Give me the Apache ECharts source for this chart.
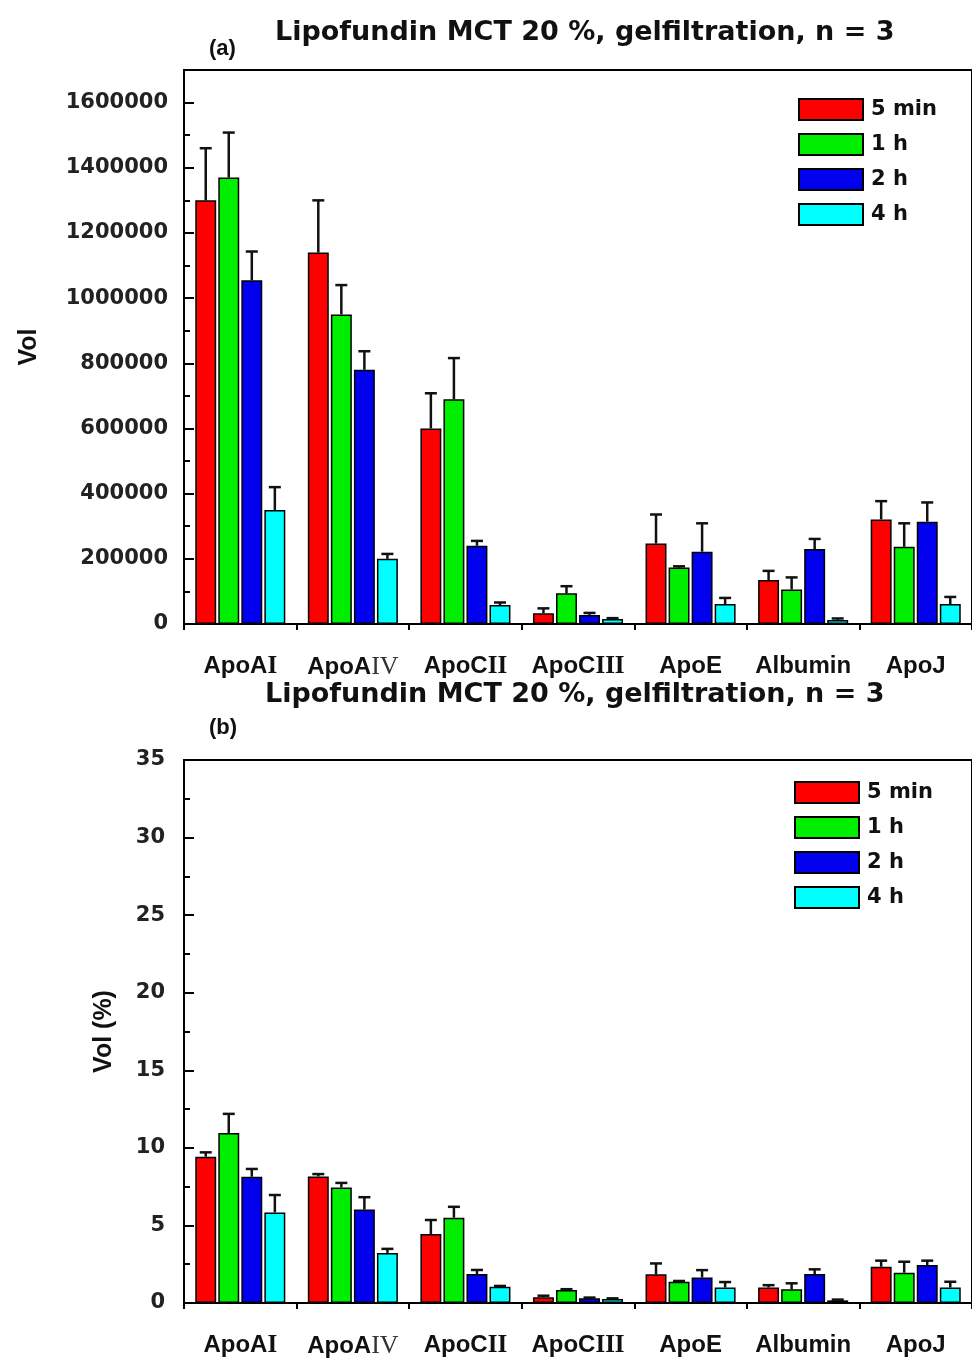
<!DOCTYPE html>
<html><head><meta charset="utf-8">
<script src="https://cdn.jsdelivr.net/npm/echarts@6/dist/echarts.min.js"></script>
<style>html,body{margin:0;padding:0;background:#fff}#c{width:972px;height:1360px}</style>
</head><body><div id="c"></div>
<script>
const categories = ['ApoAI','ApoAIV','ApoCII','ApoCIII','ApoE','Albumin','ApoJ'];
const seriesNames = ['5 min','1 h','2 h','4 h'];
const colors = ['#ff0000','#00ee00','#0000ee','#00ffff'];

// Panel (a): Vol
const volA_5min = [1300000, 1140000, 600000, 33000, 247000, 135000, 321000];
const volA_1h   = [1370000,  950000, 690000, 94000, 173000, 106000, 237000];
const volA_2h   = [1055000,  780000, 240000, 28000, 222000, 230000, 314000];
const volA_4h   = [ 350000,  200000,  58000, 15000,  61000,  12000,  61000];
const errA_5min = [160000, 160000, 108000, 15000, 89000, 28000, 56000];
const errA_1h   = [138000,  90000, 126000, 22000,  4000, 37000, 72000];
const errA_2h   = [ 88000,  57000,  15000,  6000, 87000, 31000, 59000];
const errA_4h   = [ 70000,  15000,   8000,  3000, 19000,  5000, 22000];

// Panel (b): Vol (%)
const volB_5min = [9.43, 8.16, 4.45, 0.37, 1.85, 1.00, 2.34];
const volB_1h   = [10.96, 7.45, 5.50, 0.84, 1.37, 0.88, 1.95];
const volB_2h   = [8.14, 6.02, 1.87, 0.30, 1.65, 1.87, 2.45];
const volB_4h   = [5.84, 3.23, 1.05, 0.25, 1.00, 0.17, 1.00];
const errB_5min = [0.28, 0.15, 0.90, 0.10, 0.70, 0.15, 0.39];
const errB_1h   = [1.23, 0.29, 0.70, 0.05, 0.05, 0.39, 0.71];
const errB_2h   = [0.50, 0.80, 0.26, 0.05, 0.47, 0.30, 0.28];
const errB_4h   = [1.12, 0.26, 0.05, 0.05, 0.35, 0.05, 0.37];

const titleText = 'Lipofundin MCT 20 %, gelfiltration, n = 3';

const panelA = {vals:[volA_5min,volA_1h,volA_2h,volA_4h], errs:[errA_5min,errA_1h,errA_2h,errA_4h]};
const panelB = {vals:[volB_5min,volB_1h,volB_2h,volB_4h], errs:[errB_5min,errB_1h,errB_2h,errB_4h]};

const FONT = '"Liberation Sans", Arial, sans-serif';
const WIDE = '"DejaVu Sans", Verdana, sans-serif';
const CAT_GAP = 0.2, BAR_GAP = 0.1;

function catFormatter(v){
  const m = /^(Apo[AC])([IV]+)$/.exec(v);
  if (m) return '{s|' + m[1] + '}{' + (m[2]==='IV' ? 'rt' : 'r') + '|' + m[2] + '}';
  return '{s|' + v + '}';
}
const catRich = {
  s:{fontFamily:FONT, fontWeight:'bold', fontSize:24, color:'#111'},
  r:{fontFamily:'"Liberation Serif", "DejaVu Serif", serif', fontWeight:'bold', fontSize:25, color:'#111'},
  rt:{fontFamily:'"Liberation Serif", "DejaVu Serif", serif', fontWeight:'normal', fontSize:26, color:'#333'}
};

function xAxisFor(gi){
  return {type:'category', gridIndex:gi, data:categories,
    axisLine:{lineStyle:{color:'#000', width:2}},
    axisTick:{show:true, inside:false, length:6, alignWithLabel:false, lineStyle:{color:'#000', width:2}},
    axisLabel:{formatter:catFormatter, rich:catRich, margin:30, interval:0},
    splitLine:{show:false}};
}
function yAxisFor(gi, max, interval, name, nameGap, labelMargin){
  return {type:'value', gridIndex:gi, min:0, max:max, interval:interval,
    name:name, nameLocation:'middle', nameGap:nameGap,
    nameTextStyle:{fontFamily:FONT, fontWeight:'bold', fontSize:25, color:'#111'},
    axisLine:{show:true, lineStyle:{color:'#000', width:2}},
    axisTick:{show:true, inside:true, length:10, lineStyle:{color:'#000', width:2}},
    minorTick:{show:true, splitNumber:2, length:6, lineStyle:{color:'#000', width:2}},
    axisLabel:{fontFamily:WIDE, fontWeight:'bold', fontSize:21, color:'#222', margin:labelMargin,
      showMaxLabel: max % interval === 0, formatter: v => String(v)},
    splitLine:{show:false}};
}

function errRender(si){
  return function(params, api){
    const xi = api.value(0), v = api.value(1), e = api.value(2);
    const cw = api.size([1,0])[0];
    const bw = cw*(1-CAT_GAP)/(4 + 3*BAR_GAP);
    const off = -cw*(1-CAT_GAP)/2 + bw*(1+BAR_GAP)*si + bw/2;
    const p0 = api.coord([xi, v]);
    const p1 = api.coord([xi, v + e]);
    const x = p0[0] + off;
    const cap = 6;
    return {type:'group', children:[
      {type:'line', shape:{x1:x, y1:p0[1], x2:x, y2:p1[1]}, style:{stroke:'#111', lineWidth:2.5}},
      {type:'line', shape:{x1:x-cap, y1:p1[1], x2:x+cap, y2:p1[1]}, style:{stroke:'#111', lineWidth:2.5}}
    ]};
  };
}

const series = [];
[panelA, panelB].forEach((p, gi) => {
  seriesNames.forEach((n, si) => {
    series.push({type:'bar', name:n, xAxisIndex:gi, yAxisIndex:gi, data:p.vals[si],
      barCategoryGap:(CAT_GAP*100)+'%', barGap:(BAR_GAP*100)+'%',
      itemStyle:{color:colors[si], borderColor:'#000', borderWidth:1.5}, z:2});
  });
  seriesNames.forEach((n, si) => {
    series.push({type:'custom', name:'err '+n, xAxisIndex:gi, yAxisIndex:gi,
      data:p.vals[si].map((v,i)=>[i, v, p.errs[si][i]]),
      encode:{x:0, y:1}, renderItem:errRender(si), z:1, silent:true});
  });
});

const legendCommon = {orient:'vertical', data:seriesNames, itemWidth:64, itemHeight:21, itemGap:12,
  icon:'rect', textStyle:{fontFamily:WIDE, fontWeight:'bold', fontSize:21, lineHeight:21, color:'#111', padding:[0,0,0,3]},
  selectedMode:false};

const option = {
  backgroundColor:'#fff',
  animation:false,
  title:[
    {text:titleText, left:270, top:14, textStyle:{fontFamily:WIDE, fontWeight:'bold', fontSize:27, color:'#111'}},
    {text:'(a)', left:204, top:33, textStyle:{fontFamily:FONT, fontWeight:'bold', fontSize:22, color:'#111'}},
    {text:titleText, left:260, top:676, textStyle:{fontFamily:WIDE, fontWeight:'bold', fontSize:27, color:'#111'}},
    {text:'(b)', left:204, top:712, textStyle:{fontFamily:FONT, fontWeight:'bold', fontSize:22, color:'#111'}}
  ],
  legend:[
    Object.assign({left:793, top:93}, legendCommon),
    Object.assign({left:789, top:776}, legendCommon)
  ],
  grid:[
    {left:184, top:70, width:794, height:554, show:true, borderColor:'#000', borderWidth:2, backgroundColor:'transparent'},
    {left:184, top:760, width:794, height:543, show:true, borderColor:'#000', borderWidth:2, backgroundColor:'transparent'}
  ],
  xAxis:[xAxisFor(0), xAxisFor(1)],
  yAxis:[yAxisFor(0, 1700000, 200000, 'Vol', 142, 16), yAxisFor(1, 35, 5, 'Vol (%)', 67, 19)],
  series:series
};

const chart = echarts.init(document.getElementById('c'), null, {renderer:'canvas'});
chart.setOption(option);
</script></body></html>
